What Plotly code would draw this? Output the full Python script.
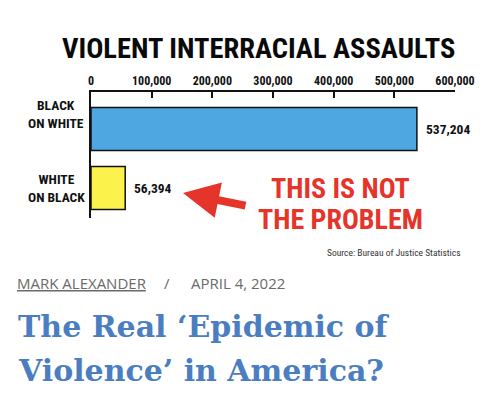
import plotly.graph_objects as go

categories = ["BLACK ON WHITE", "WHITE ON BLACK"]
category_labels = ["BLACK<br>ON WHITE", "WHITE<br>ON BLACK"]
values = [537204, 56394]
bar_colors = ["#4ea7e1", "#fbf24c"]
tick_values = [0, 100000, 200000, 300000, 400000, 500000, 600000]
title_text = "VIOLENT INTERRACIAL ASSAULTS"
callout_lines = ["THIS IS NOT", "THE PROBLEM"]
source_text = "Source: Bureau of Justice Statistics"
author = "MARK ALEXANDER"
date_text = "APRIL 4, 2022"
headline_lines = ["The Real ‘Epidemic of", "Violence’ in America?"]

# page body has an 8px margin: size the figure to the visible window
OFF = 8
W, H = 500 - OFF, 394 - OFF
NARROW = "Roboto Condensed, DejaVu Sans Condensed, sans-serif"

def px(x):
    return (x - OFF) / W

def py(y):
    return 1 - (y - OFF) / H

fig = go.Figure()
fig.add_trace(go.Bar(
    x=values, y=categories, orientation="h",
    marker=dict(color=bar_colors, line=dict(color="#111111", width=1.5)),
    width=0.73, hoverinfo="skip",
))

annotations = []
for cat, val in zip(categories, values):
    annotations.append(dict(
        text="<b>{:,}</b>".format(val), xref="x", yref="y", x=val, y=cat,
        xanchor="left", yanchor="middle", xshift=7, yshift=0, showarrow=False,
        font=dict(family=NARROW, size=13.5, color="#111111")))
annotations.append(dict(
    text="<b>" + title_text + "</b>", xref="paper", yref="paper",
    x=px(258), y=py(48), xanchor="center", yanchor="middle", showarrow=False,
    font=dict(family=NARROW, size=28.5, color="#0a0a0a")))
for cat, lab, shift in zip(categories, category_labels, [15, 0]):
    annotations.append(dict(
        text="<b>" + lab + "</b>", xref="paper", yref="y", x=px(56), y=cat,
        yshift=shift, xanchor="center", yanchor="middle", align="center",
        showarrow=False, font=dict(family=NARROW, size=13.5, color="#111111")))
for line, xc, yc in zip(callout_lines, [340, 340.5], [188, 220]):
    annotations.append(dict(
        text="<b>" + line + "</b>", xref="paper", yref="paper",
        x=px(xc), y=py(yc), xanchor="center", yanchor="middle",
        showarrow=False, font=dict(family=NARROW, size=28, color="#e5342a")))
annotations.append(dict(
    text="", xref="paper", yref="paper", x=px(183), y=py(193),
    ax=64, ay=13, showarrow=True, arrowhead=2, arrowsize=0.9, arrowwidth=8,
    arrowcolor="#e5342a", standoff=0))
annotations.append(dict(
    text=source_text, xref="paper", yref="paper",
    x=px(463), y=py(252), xanchor="right", yanchor="middle", showarrow=False,
    font=dict(family=NARROW, size=9.5, color="#333333")))
annotations.append(dict(
    text="<u>" + author + "</u>", xref="paper", yref="paper",
    x=px(15), y=py(283), xanchor="left", yanchor="middle", showarrow=False,
    font=dict(family="Open Sans, sans-serif", size=15, color="#6a6a6a")))
annotations.append(dict(
    text="/", xref="paper", yref="paper",
    x=px(167), y=py(283), xanchor="center", yanchor="middle", showarrow=False,
    font=dict(family="Open Sans, sans-serif", size=15, color="#6a6a6a")))
annotations.append(dict(
    text=date_text, xref="paper", yref="paper",
    x=px(189), y=py(283), xanchor="left", yanchor="middle", showarrow=False,
    font=dict(family="Open Sans, sans-serif", size=15, color="#6a6a6a")))
for line, yc in zip(headline_lines, [326, 370]):
    annotations.append(dict(
        text="<b>" + line + "</b>", xref="paper", yref="paper",
        x=px(16), y=py(yc), xanchor="left", yanchor="middle", align="left",
        showarrow=False,
        font=dict(family="DejaVu Serif, serif", size=30, color="#4a7ec1")))

fig.update_layout(
    width=W, height=H,
    margin=dict(l=0, r=0, t=0, b=0, autoexpand=False),
    paper_bgcolor="white", plot_bgcolor="white",
    showlegend=False,
    annotations=annotations,
    xaxis=dict(
        domain=[px(91), px(455)], range=[0, 600000], side="top",
        tickvals=tick_values, tickformat=",", showgrid=False, zeroline=False,
        showline=True, linecolor="#111111", linewidth=2,
        ticks="inside", ticklen=6, tickwidth=2, tickcolor="#111111",
        tickfont=dict(family=NARROW, size=12, color="#111111", weight="bold"),
        fixedrange=True,
    ),
    yaxis=dict(
        domain=[py(218), py(92)], range=[1.51, -0.63],
        showticklabels=False, showgrid=False, zeroline=False,
        showline=True, linecolor="#111111", linewidth=2, ticks="",
        fixedrange=True,
    ),
)

fig.write_html("out.html")
